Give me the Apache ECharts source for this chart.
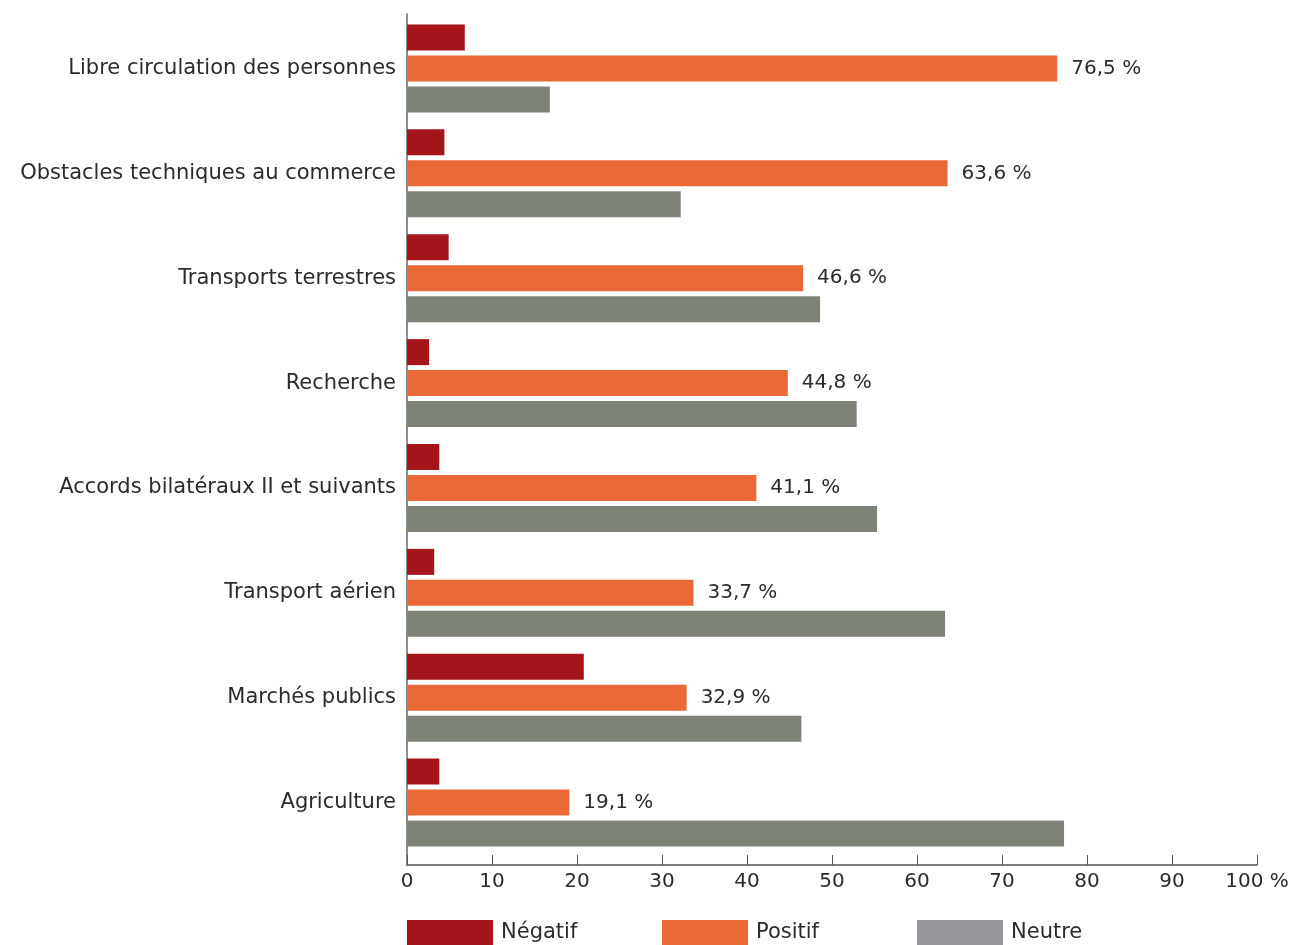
<!DOCTYPE html>
<html>
<head>
<meta charset="utf-8">
<script src="https://cdn.jsdelivr.net/npm/echarts@6/dist/echarts.min.js"></script>
<style>
  html, body { margin: 0; padding: 0; background: #fff; }
  #chart { width: 1304px; height: 945px; }
</style>
</head>
<body>
<div id="chart"></div>
<script>
// catégories, de haut en bas
const categories = [
  "Libre circulation des personnes",
  "Obstacles techniques au commerce",
  "Transports terrestres",
  "Recherche",
  "Accords bilatéraux II et suivants",
  "Transport aérien",
  "Marchés publics",
  "Agriculture"
];
const negatif = [6.8, 4.4, 4.9, 2.6, 3.8, 3.2, 20.8, 3.8];
const positif = [76.5, 63.6, 46.6, 44.8, 41.1, 33.7, 32.9, 19.1];
const neutre = [16.8, 32.2, 48.6, 52.9, 55.3, 63.3, 46.4, 77.3];
const xTicks = [0, 10, 20, 30, 40, 50, 60, 70, 80, 90, 100];

const font = "DejaVu Sans";
const textColor = "#2b2b2b";
const axisColor = "#555";

const legendBase = {
  top: 920,
  padding: 0,
  itemWidth: 86,
  itemHeight: 26,
  icon: "rect",
  textStyle: { fontFamily: font, fontSize: 21, color: textColor, padding: [0, 0, 0, 3] }
};

const chart = echarts.init(document.getElementById("chart"));
chart.setOption({
  backgroundColor: "#fff",
  animation: false,
  grid: [
    // grille des axes (un peu plus haute que les barres)
    { left: 407, right: 47, top: 14, bottom: 80, outerBoundsMode: "none" },
    // grille des barres
    { left: 407, right: 47, top: 16, bottom: 90, outerBoundsMode: "none" }
  ],
  legend: [
    Object.assign({ left: 407, data: [{ name: "Négatif" }] }, legendBase),
    Object.assign({ left: 662, data: [{ name: "Positif" }] }, legendBase),
    Object.assign({ left: 917, data: [{ name: "Neutre", itemStyle: { color: "#97979b" } }] }, legendBase)
  ],
  xAxis: [
    {
      gridIndex: 0,
      type: "value",
      min: xTicks[0],
      max: xTicks[xTicks.length - 1],
      interval: 10,
      splitLine: { show: false },
      axisLine: { show: true, onZero: false, lineStyle: { color: axisColor, width: 1.5 } },
      axisTick: { show: true, inside: true, length: 10, lineStyle: { color: axisColor } },
      axisLabel: {
        fontFamily: font,
        fontSize: 20,
        color: textColor,
        margin: 7,
        formatter: (v) => (v === 100 ? "100 %" : String(v)),
        alignMinLabel: "center",
        alignMaxLabel: "center"
      }
    },
    {
      gridIndex: 1,
      type: "value",
      min: xTicks[0],
      max: xTicks[xTicks.length - 1],
      show: false
    }
  ],
  yAxis: [
    {
      gridIndex: 0,
      type: "value",
      axisLine: { show: true, onZero: false, lineStyle: { color: "#666", width: 1.5 } },
      axisTick: { show: false },
      axisLabel: { show: false },
      splitLine: { show: false }
    },
    {
      gridIndex: 1,
      type: "category",
      inverse: true,
      data: categories,
      axisLine: { show: false },
      axisTick: { show: false },
      axisLabel: { fontFamily: font, fontSize: 21, color: textColor, margin: 11 }
    }
  ],
  series: [
    {
      name: "Négatif",
      type: "bar",
      xAxisIndex: 1,
      yAxisIndex: 1,
      data: negatif,
      barWidth: 26,
      barGap: "19%",
      itemStyle: { color: "#a5161c" }
    },
    {
      name: "Positif",
      type: "bar",
      xAxisIndex: 1,
      yAxisIndex: 1,
      data: positif,
      barWidth: 26,
      barGap: "19%",
      itemStyle: { color: "#ea6a37" },
      label: {
        show: true,
        position: "right",
        distance: 14,
        fontFamily: font,
        fontSize: 20,
        color: textColor,
        formatter: (p) => p.value.toFixed(1).replace(".", ",") + " %"
      }
    },
    {
      name: "Neutre",
      type: "bar",
      xAxisIndex: 1,
      yAxisIndex: 1,
      data: neutre,
      barWidth: 26,
      barGap: "19%",
      itemStyle: { color: "#7e8378" }
    }
  ]
});
</script>
</body>
</html>
